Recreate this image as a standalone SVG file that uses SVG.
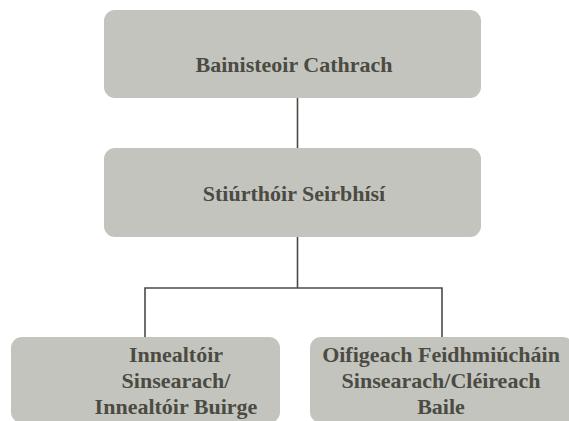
<svg xmlns="http://www.w3.org/2000/svg" width="569" height="421" viewBox="0 0 569 421">
<style>
.box{fill:#c4c4bf;}
.t{font-family:"Liberation Serif","Times New Roman",serif;font-weight:bold;font-size:22px;fill:#4b4b43;text-anchor:middle;}
.c{stroke:#4b4b45;stroke-width:1.6;fill:none;}
</style>
<rect width="569" height="421" fill="#ffffff"/>
<g id="connectors">
<line class="c" x1="297.5" y1="98" x2="297.5" y2="148"/>
<line class="c" x1="297.5" y1="237" x2="297.5" y2="288"/>
<polyline class="c" points="145,337 145,288 442,288 442,337"/>
</g>
<g id="n1">
<rect class="box" x="104" y="10" width="377" height="88" rx="11"/>
<text class="t" x="294" y="72">Bainisteoir Cathrach</text>
</g>
<g id="n2">
<rect class="box" x="104" y="148" width="377" height="89" rx="11"/>
<text class="t" x="294" y="201">Stiúrthóir Seirbhísí</text>
</g>
<g id="n3">
<rect class="box" x="11" y="337" width="269" height="86" rx="11"/>
<text class="t" x="176" y="362">Innealtóir</text>
<text class="t" x="176" y="388">Sinsearach/</text>
<text class="t" x="176" y="414">Innealtóir Buirge</text>
</g>
<g id="n4">
<rect class="box" x="310" y="337" width="264" height="86" rx="11"/>
<text class="t" x="441" y="362">Oifigeach Feidhmiúcháin</text>
<text class="t" x="441" y="388">Sinsearach/Cléireach</text>
<text class="t" x="441" y="414">Baile</text>
</g>
</svg>
